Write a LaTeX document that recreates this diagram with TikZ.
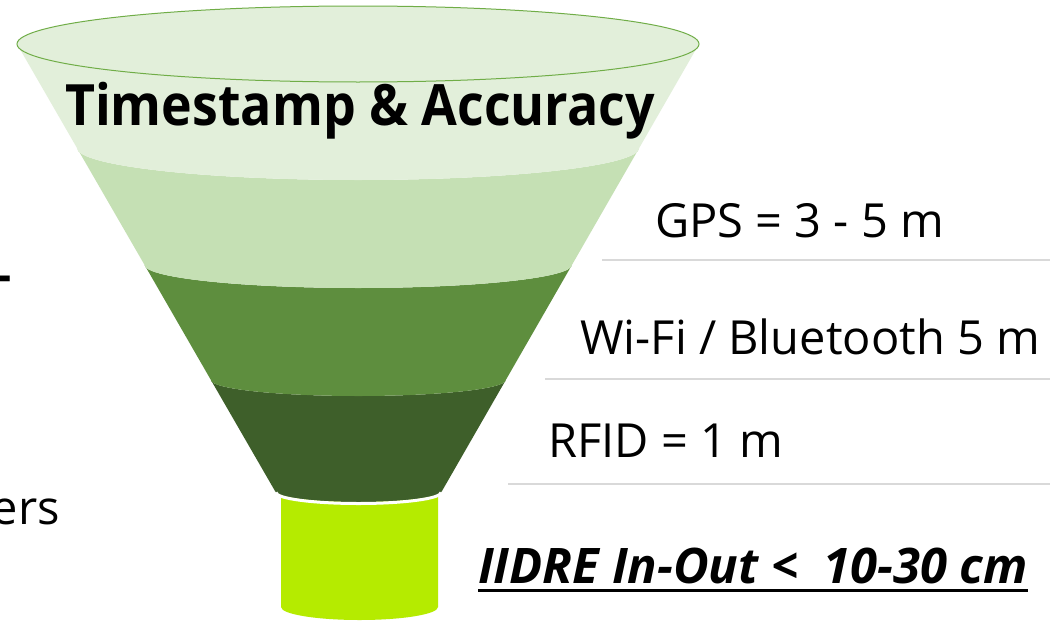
\documentclass[tikz,border=0pt]{standalone}
\usepackage{fontspec}
\setmainfont{Open Sans}
\definecolor{bandA}{HTML}{E2EFDA}
\definecolor{bandB}{HTML}{C5E0B4}
\definecolor{bandC}{HTML}{5E8E3E}
\definecolor{bandD}{HTML}{3E5F2A}
\definecolor{lime}{HTML}{B5EB00}
\definecolor{rimline}{HTML}{70AD47}
\definecolor{sepline}{HTML}{D9D9D9}
% lower half-ellipse arcs: cx, y, rx, depth
\newcommand\lowarcLR[4]{ .. controls ({#1-#3},{#2+0.5523*#4}) and ({#1-0.5523*#3},{#2+#4}) .. ({#1},{#2+#4}) .. controls ({#1+0.5523*#3},{#2+#4}) and ({#1+#3},{#2+0.5523*#4}) .. ({#1+#3},{#2})}
\newcommand\lowarcRL[4]{ .. controls ({#1+#3},{#2+0.5523*#4}) and ({#1+0.5523*#3},{#2+#4}) .. ({#1},{#2+#4}) .. controls ({#1-0.5523*#3},{#2+#4}) and ({#1-#3},{#2+0.5523*#4}) .. ({#1-#3},{#2})}
\begin{document}
\begin{tikzpicture}[x=1pt,y=-1pt,
  lbl/.style={inner sep=0pt, font=\fontsize{47}{56}\selectfont},
  sep/.style={sepline, line width=1.5pt}]
\useasboundingbox (0,0) rectangle (1054,621);
\fill[white] (0,0) rectangle (1054,621);
% cylinder (spout)
\fill[lime] (281,495) -- (281,607) \lowarcLR{359.5}{607}{78.5}{13} -- (438,495) -- cycle;
% band 4
\fill[bandD] (210.9,380) -- (275,491) \lowarcLR{358.5}{491}{83.5}{11} -- (505.8,380) \lowarcRL{358.35}{380}{147.45}{16} -- cycle;
\draw[white, line width=3pt] (276,492.5) \lowarcLR{358.5}{492.5}{82.5}{11};
% band 3
\fill[bandC] (144.6,265) -- (210.9,380) \lowarcLR{358.35}{380}{147.45}{16} -- (571.9,265) \lowarcRL{358.25}{265}{213.65}{23} -- cycle;
% band 2
\fill[bandB] (77,148) -- (144.6,265) \lowarcLR{358.25}{265}{213.65}{23} -- (639.2,148) \lowarcRL{358.1}{148}{281.1}{32} -- cycle;
% band 1
\fill[bandA] (17,44) -- (77,148) \lowarcLR{358.1}{148}{281.1}{32} -- (699,44) -- cycle;
% rim
\draw[rimline, fill=bandA, line width=1pt] (358,44) ellipse [x radius=341, y radius=38];
% texts
\node[inner sep=0pt, anchor=base, xscale=0.91, font=\fontsize{57}{64}\selectfont\bfseries] (title) at (360,125) {Timestamp \& Accuracy};
\node[lbl, anchor=base west] (gps) at (655,237) {GPS = 3 - 5 m};
\node[lbl, anchor=base west] (wifi) at (580,354) {Wi-Fi / Bluetooth 5 m};
\node[lbl, anchor=base west] (rfid) at (548,457) {RFID = 1 m};
\node[inner sep=0pt, anchor=base west, font=\fontsize{49}{58}\selectfont\bfseries\itshape] (iidre) at (478,583) {IIDRE In-Out <\hspace{0.25em} 10-30 cm};
\draw[line width=3pt] ([yshift=-7pt]iidre.base west) -- ([yshift=-7pt]iidre.base east);
\node[lbl, anchor=base east] (ers) at (60,524) {ers};
\node[lbl, anchor=base east, font=\fontsize{47}{56}\selectfont\bfseries] (dash) at (12,291) {-};
% separator lines
\coordinate (s1a) at (602,260); \coordinate (s1b) at (1050,260);
\coordinate (s2a) at (545,379); \coordinate (s2b) at (1050,379);
\coordinate (s3a) at (508,484); \coordinate (s3b) at (1050,484);
\draw[sep] (s1a) -- (s1b);
\draw[sep] (s2a) -- (s2b);
\draw[sep] (s3a) -- (s3b);
\end{tikzpicture}
\end{document}
